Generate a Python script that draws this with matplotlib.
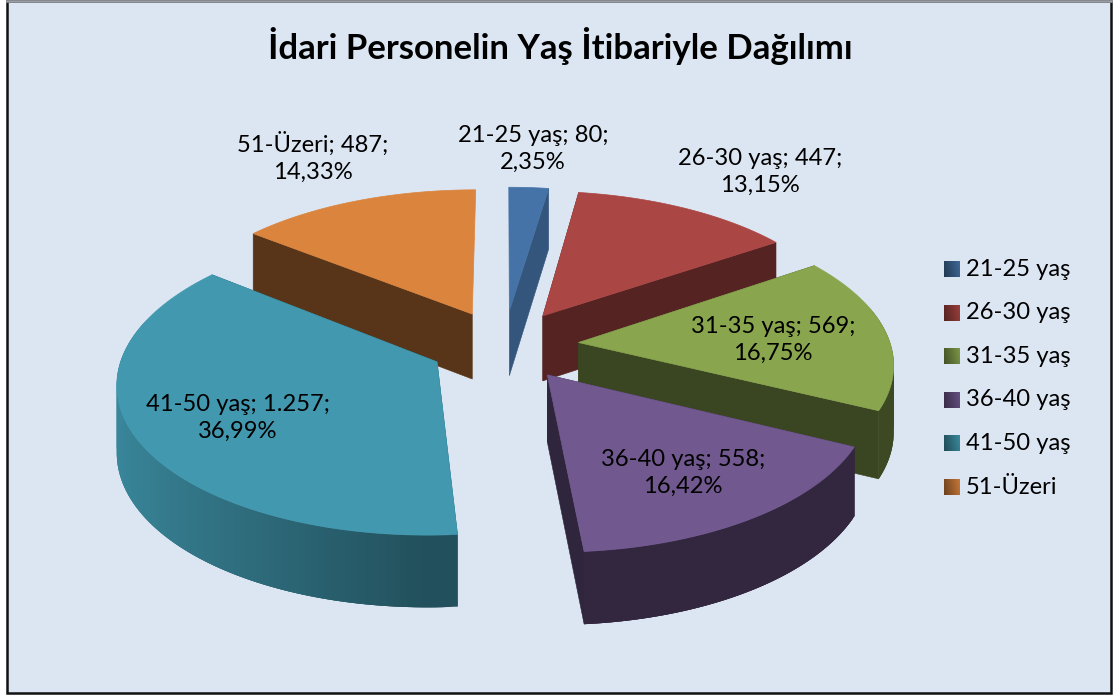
import numpy as np
import matplotlib
matplotlib.use("Agg")
import matplotlib.pyplot as plt
from matplotlib.patches import Polygon, Rectangle

plt.rcParams['font.family'] = ['Lato', 'DejaVu Sans']

categories = ['21-25 yaş', '26-30 yaş', '31-35 yaş', '36-40 yaş', '41-50 yaş', '51-Üzeri']
values = [80, 447, 569, 558, 1257, 487]
title = 'İdari Personelin Yaş İtibariyle Dağılımı'

colors = ['#4573A7', '#AA4643', '#89A54E', '#71588F', '#4198AF', '#DB843D']
wall_shade = [0.75, 0.5, 0.42, 0.42, 0.55, 0.4]
label_pos = [(533, 149), (760, 172), (773, 340), (683, 473), (238, 418), (313, 157)]

# projection (pixels)
CX, CY = 504, 345
A, B = 312, 147
K = 0.125
EXPLODE = 0.24
DEPTH = 66


def rgb(c, f):
    return np.clip(np.array(matplotlib.colors.to_rgb(c)) * f, 0, 1)


def proj(x, y):
    w = 1 / (1 + K * y)
    return CX + A * x * w, CY - B * y * w


def drop(y):
    w = 1 / (1 + K * y)
    return DEPTH * w ** 0.6


def fmt(v):
    s = f'{v:,}'.replace(',', '.')
    return s


fig = plt.figure(figsize=(11.15, 6.97), dpi=100)
ax = fig.add_axes([0, 0, 1, 1])
ax.set_xlim(0, 1115)
ax.set_ylim(697, 0)
ax.axis('off')

ax.add_patch(Rectangle((7, 1), 1104, 692, facecolor='#DCE6F2', edgecolor='#111111', lw=1.8, zorder=0))
ax.plot([7, 1111], [1, 1], color='#9A9FA6', lw=1.8, zorder=0.5)

total = sum(values)
bordes = np.cumsum([0] + values) / total * 2 * np.pi
slices = []
for i in range(len(values)):
    t0, t1 = bordes[i], bordes[i + 1]
    mid = (t0 + t1) / 2
    ox, oy = EXPLODE * np.sin(mid), EXPLODE * np.cos(mid)
    th = np.linspace(t0, t1, 120)
    xs = ox + np.sin(th)
    ys = oy + np.cos(th)
    slices.append((i, ox, oy, th, xs, ys))

# back to front
orden = sorted(slices, key=lambda s: -(s[2]))
z = 2
for i, ox, oy, th, xs, ys in orden:
    c = colors[i]
    px, py = proj(xs, ys)
    tipx, tipy = proj(ox, oy)
    d = drop(ys)
    dtip = drop(oy)

    # radial walls, an edge that runs almost straight up shows no wall
    wall = rgb(c, wall_shade[i])
    for j in (0, -1):
        if abs(px[j] - tipx) < 6:
            continue
        pts = [(tipx, tipy), (px[j], py[j]), (px[j], py[j] + d[j]), (tipx, tipy + dtip)]
        ax.add_patch(Polygon(pts, closed=True, facecolor=wall, edgecolor=wall, lw=0.4, zorder=z))
    z += 1

    # outer wall with shading, lighter on the left; pieces overlap so no seams show
    for j in range(len(th) - 1):
        if np.cos(th[j]) > 0.25:
            continue
        f = 0.5 - 0.36 * np.sin(th[j]) * (np.sin(th[j]) < 0)
        if i == 4:
            f += 0.03
        else:
            f -= 0.06
        seg = rgb(c, f)
        k = min(j + 3, len(th) - 1)
        pts = list(zip(px[j:k + 1], py[j:k + 1])) + list(zip(px[j:k + 1][::-1], (py + d)[j:k + 1][::-1]))
        ax.add_patch(Polygon(pts, closed=True, facecolor=seg, edgecolor='none', zorder=z))
    z += 1

    # top
    pts = [(tipx, tipy)] + list(zip(px, py))
    ax.add_patch(Polygon(pts, closed=True, facecolor=c, edgecolor=c, lw=0.5, zorder=z))
    z += 1

ax.text(560, 46, title, ha='center', va='center', fontsize=25, fontweight='bold', color='black', zorder=50)

for i in range(len(values)):
    pct = f'{values[i] / total * 100:.2f}'.replace('.', ',')
    txt = f'{categories[i]}; {fmt(values[i])};\n{pct}%'
    ax.text(label_pos[i][0], label_pos[i][1], txt, ha='center', va='center', fontsize=17.1,
            linespacing=1.36, color='black', zorder=50)

# legend
ley_y = np.linspace(269, 487, len(categories))
for i, nombre in enumerate(categories):
    y = ley_y[i]
    grad = np.zeros((16, 16, 3))
    for a in range(16):
        for b in range(16):
            grad[a, b] = rgb(colors[i], 0.5 + (b + (15 - a) * 0.2) * 0.022)
    ax.imshow(grad, extent=(944, 960, y + 8, y - 8), aspect='auto', zorder=40, interpolation='bilinear')
    ax.text(966, y, nombre, ha='left', va='center', fontsize=17.1, color='black', zorder=50)
ax.set_xlim(0, 1115)
ax.set_ylim(697, 0)

fig.savefig('out.png', dpi=100, facecolor='white')
